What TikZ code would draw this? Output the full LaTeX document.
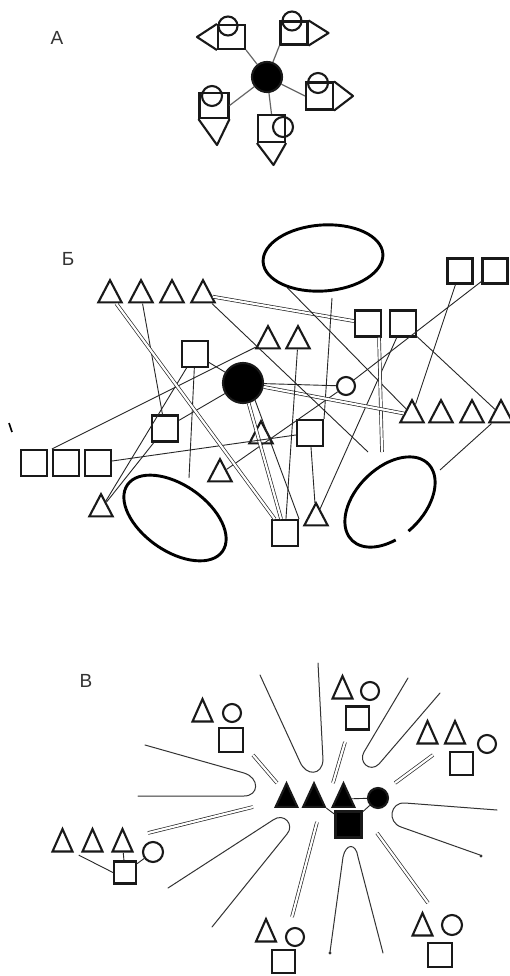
\documentclass[tikz,border=0pt]{standalone}
\usepackage{fontspec}
\setmainfont{Liberation Sans}
\usetikzlibrary{shapes.geometric,calc}
\begin{document}
\begin{tikzpicture}[x=1pt,y=-1pt,
  shp/.style={draw=black!90,line width=2.1pt},
  sq/.style={shp,rectangle,inner sep=0pt,minimum size=26pt},
  tri/.style={shp,regular polygon,regular polygon sides=3,inner sep=0pt,minimum size=27pt,yscale=1.1},
  trB/.style={shp,regular polygon,regular polygon sides=3,inner sep=0pt,minimum size=23pt,yscale=1.3},
  trF/.style={shp,fill=black,regular polygon,regular polygon sides=3,inner sep=0pt,minimum size=25pt,yscale=1.25},
  cir/.style={shp,circle,inner sep=0pt,minimum size=18pt},
  oval/.style={draw=black,line width=2.9pt,ellipse,inner sep=0pt},
  con/.style={draw=black!85,line width=0.9pt},
  conA/.style={draw=black!60,line width=1.2pt},
  dbl/.style={draw=black!85,double=white,double distance=2.2pt,line width=0.7pt},
  ushape/.style={draw=black!80,line width=1pt,line cap=round},
  lbl/.style={font=\fontsize{19}{19}\selectfont,text=black!80,inner sep=0pt}]
\fill[white] (0,0) rectangle (509,976);
\useasboundingbox (0,0) rectangle (509,976);

% ---------------- Panel A ----------------
\node[lbl] (labA) at (57,38) {А};
\node[shp,circle,fill=black,minimum size=30pt,inner sep=0pt] (cA) at (267,77) {};
% group 1
\node[shp,rectangle,inner sep=0pt,minimum width=27pt,minimum height=24pt] (s1) at (231.5,37) {};
\draw[shp,line join=round] (s1.north west) -- ($(s1.west)+(-20,0)$) -- (s1.south west);
\node[cir,minimum size=19pt] (c1) at (228,26) {};
% group 2
\node[shp,rectangle,inner sep=0pt,minimum width=27pt,minimum height=23pt] (s2) at (294,33) {};
\draw[shp,line join=round] (s2.north east) -- ($(s2.east)+(20,0)$) -- (s2.south east);
\node[cir,minimum size=19pt] (c2) at (292,21) {};
% group 3
\node[shp,rectangle,inner sep=0pt,minimum width=27pt,minimum height=27pt] (s3) at (319.5,96) {};
\draw[shp,line join=round] (s3.north east) -- ($(s3.east)+(19,0)$) -- (s3.south east);
\node[cir,minimum size=20pt] (c3) at (318,83) {};
% group 4
\node[shp,rectangle,inner sep=0pt,minimum width=29pt,minimum height=25pt] (s4) at (214,105.5) {};
\draw[shp,line join=round] (s4.south west) -- ($(s4.south)+(3,26)$) -- (s4.south east);
\node[cir,minimum size=20pt] (c4) at (212,96) {};
% group 5
\node[shp,rectangle,inner sep=0pt,minimum width=27pt,minimum height=27pt] (s5) at (271.5,128.5) {};
\draw[shp,line join=round] (s5.south west) -- ($(s5.south)+(2,22)$) -- (s5.south east);
\node[cir,minimum size=20pt] (c5) at (283,127) {};
\draw[conA] (cA) -- (s1.south east);
\draw[conA] (cA) -- (s2.south west);
\draw[conA] (cA) -- (s3.west);
\draw[conA] (cA) -- (s4.east);
\draw[conA] (cA) -- (s5.north);

% ---------------- Panel B (Б) ----------------
\node[lbl] (labB) at (68,259) {Б};
\node[oval,minimum width=120pt,minimum height=66pt,rotate=4] (E1) at (323,258) {};
\node[tri] (T1a) at (110,295) {};
\node[tri] (T1b) at (141,295) {};
\node[tri] (T1c) at (172,295) {};
\node[tri] (T1d) at (203,295) {};
\node[sq,minimum size=25pt] (Q1a) at (460,271) {};
\node[sq,minimum size=25pt] (Q1b) at (495,271) {};
\node[sq] (Q2a) at (368,323.5) {};
\node[sq] (Q2b) at (403,323.5) {};
\node[tri] (T2a) at (268,341) {};
\node[tri] (T2b) at (298,341) {};
\node[sq] (Q3) at (195,354) {};
\node[shp,circle,fill=black,minimum size=40pt,inner sep=0pt] (BC) at (243,383) {};
\node[cir] (SC) at (346,386) {};
\node[tri] (T3a) at (412,415) {};
\node[tri] (T3b) at (441,415) {};
\node[tri] (T3c) at (472,415) {};
\node[tri] (T3d) at (501,415) {};
\node[sq] (Q4) at (310,433) {};
\node[tri] (T4) at (261,436) {};
\node[tri] (T5) at (220,474) {};
\node[sq] (Q5) at (165,428.5) {};
\node[sq] (Q6a) at (34,463) {};
\node[sq] (Q6b) at (66,463) {};
\node[sq] (Q6c) at (98,463) {};
\node[tri] (T6) at (101,509) {};
\node[tri] (T7) at (316,518) {};
\node[sq] (Q8) at (285,533) {};
\node[oval,minimum width=116pt,minimum height=66pt,rotate=-35] (E2) at (175,518) {};
\coordinate (E3) at (390,502);
\draw[line width=2.9pt,shift={(E3)},rotate=45] (262:54pt and 34pt) arc[start angle=262,end angle=605,x radius=54pt,y radius=34pt];
\draw[line width=1.6pt] (9,423) -- (12,432);
% connectors
\coordinate (b3) at (332,298);
\coordinate (b5) at (382,452);
\coordinate (b9) at (440,470);
\coordinate (b12) at (368,452);
\coordinate (b19) at (189,478);
\draw[dbl] (T1d) -- (Q2a);
\draw[con] (E1.216) -- (T3a);
\draw[con] (b3) -- (Q4.north east);
\draw[con] (Q4) -- (T7);
\draw[con] (Q2b) -- (T7);
\draw[dbl] ($(Q2a.south east)+(-3,0)$) -- (b5);
\draw[con] (Q1b) -- (SC);
\draw[con] (SC) -- (T5);
\draw[con] (Q1a) -- (T3a);
\draw[con] (Q2b) -- (T3d);
\draw[con] (T3d) -- (b9);
\draw[con] (BC) -- (SC);
\draw[dbl] (BC) -- (T3a);
\draw[con] (T1d) -- (b12);
\draw[con] (T2b) -- (Q8);
\draw[dbl] (BC) -- (Q8);
\draw[con] (BC.-55) -- (Q8.north east);
\draw[con] (Q6b.north west) -- (T2a);
\draw[con] (Q6c) -- (Q4);
\draw[con] (Q3) -- (BC);
\draw[con] (BC) -- (Q5);
\draw[con] (Q3) -- (b19);
\draw[con] (Q5) -- (T6);
\draw[con] (T6) -- (Q3);
\draw[con] (T1b) -- (Q5);
\draw[dbl] (T1a) -- (Q8);

% ---------------- Panel V (В) ----------------
\node[lbl] (labV) at (86,681) {В};
\node[trF] (FT1) at (286.5,799) {};
\node[trF] (FT2) at (314,799) {};
\node[trF] (FT3) at (343.5,799) {};
\node[shp,circle,fill=black,minimum size=20pt,inner sep=0pt] (FC) at (378,798) {};
\node[shp,rectangle,fill=black,minimum size=26pt,inner sep=0pt] (FS) at (348.5,824.5) {};
\draw[con] (FT3) -- (FC);
\draw[con] (FC) -- (FS);
\draw[con] (FT2) -- (FS);
% groups
\node[trB] (g1t) at (202.5,714) {};
\node[cir] (g1c) at (232,713) {};
\node[sq,minimum size=24pt] (g1s) at (231,740) {};
\node[trB] (g2t) at (342.5,691) {};
\node[cir] (g2c) at (370,691) {};
\node[sq,minimum size=23pt] (g2s) at (357.5,718) {};
\node[trB] (g3a) at (427.5,736) {};
\node[trB] (g3b) at (455,736) {};
\node[cir] (g3c) at (487,744) {};
\node[sq,minimum size=23pt] (g3s) at (461.5,763.5) {};
\node[trB] (g4a) at (62.5,844) {};
\node[trB] (g4b) at (92.5,844) {};
\node[trB] (g4d) at (122.5,844) {};
\node[cir,minimum size=20pt] (g4c) at (153,852) {};
\node[sq,minimum size=22pt] (g4s) at (125,872.5) {};
\draw[con,shorten <=5pt] (g4a.corner 3) -- (g4s.west);
\draw[con] (g4d) -- (g4s);
\draw[con] (g4s) -- (g4c);
\node[trB] (g5t) at (266,934) {};
\node[cir] (g5c) at (295,937) {};
\node[sq,minimum size=23pt] (g5s) at (283.5,961.5) {};
\node[trB] (g6t) at (422.5,928) {};
\node[cir,minimum size=20pt] (g6c) at (452,925) {};
\node[sq,minimum size=24pt] (g6s) at (440,955) {};
% double links
\coordinate (d1a) at (253,755); \coordinate (d1b) at (277,783);
\coordinate (d2a) at (345,742); \coordinate (d2b) at (333,783);
\coordinate (d3a) at (433,755); \coordinate (d3b) at (395,783);
\coordinate (d4a) at (148,833); \coordinate (d4b) at (253,807);
\coordinate (d5a) at (292,917); \coordinate (d5b) at (317,822);
\coordinate (d6a) at (428,903); \coordinate (d6b) at (377,833);
\draw[dbl] (d1a) -- (d1b);
\draw[dbl] (d2a) -- (d2b);
\draw[dbl] (d3a) -- (d3b);
\draw[dbl] (d4a) -- (d4b);
\draw[dbl] (d5a) -- (d5b);
\draw[dbl] (d6a) -- (d6b);
% hairpin barriers
\draw[ushape] (260,675) -- (300,762) .. controls (306,776) and (322,776) .. (323,760) -- (318,663);
\draw[ushape] (145,745) -- (244,773) .. controls (260,778) and (259,796) .. (244,796) -- (138,796);
\draw[ushape] (408,678) -- (364,752) .. controls (358,762) and (370,773) .. (379,764) -- (440,693);
\draw[ushape] (497,810) -- (405,803) .. controls (390,802) and (387,822) .. (401,827) -- (480,855);
\draw[ushape] (168,888) -- (273,820) .. controls (284,812) and (295,825) .. (287,834) -- (212,927);
\draw[ushape] (330,952) -- (343,857) .. controls (346,843) and (356,843) .. (358,857) -- (383,953);
\fill[black!80] (481,856) circle (1.6pt);
\fill[black!80] (330,953) circle (1.6pt);
\end{tikzpicture}
\end{document}
